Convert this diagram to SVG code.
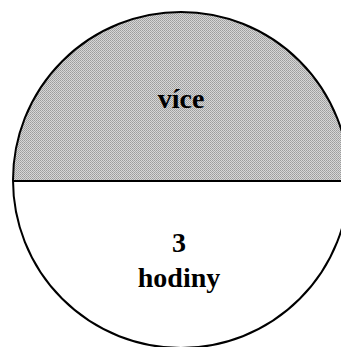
<svg xmlns="http://www.w3.org/2000/svg" width="341" height="347" viewBox="0 0 341 347">
<style>
.lbl{font-family:"Liberation Serif","Times New Roman",serif;font-weight:bold;font-size:28px;text-anchor:middle;fill:#000}
</style>
<defs>
<pattern id="dots" width="2" height="2" patternUnits="userSpaceOnUse">
<rect width="2" height="2" fill="#d6d6d6"/>
<rect width="1" height="1" fill="#9c9c9c"/>
<rect x="1" y="1" width="1" height="1" fill="#a8a8a8"/>
</pattern>
<clipPath id="top"><rect x="0" y="0" width="341" height="181"/></clipPath>
</defs>
<rect width="341" height="347" fill="#fff"/>
<g id="pie">
<circle cx="181" cy="180" r="168" fill="#fff"/>
<circle cx="181" cy="180" r="168" fill="url(#dots)" clip-path="url(#top)"/>
<circle cx="181" cy="180" r="168" fill="none" stroke="#000" stroke-width="2"/>
</g>
<g id="connectors">
<line x1="13" y1="181" x2="341" y2="181" stroke="#000" stroke-width="2"/>
</g>
<g id="label-top"><text class="lbl" x="181" y="108">více</text></g>
<g id="label-bottom">
<text class="lbl" x="179" y="252">3</text>
<text class="lbl" x="179" y="287">hodiny</text>
</g>
</svg>
